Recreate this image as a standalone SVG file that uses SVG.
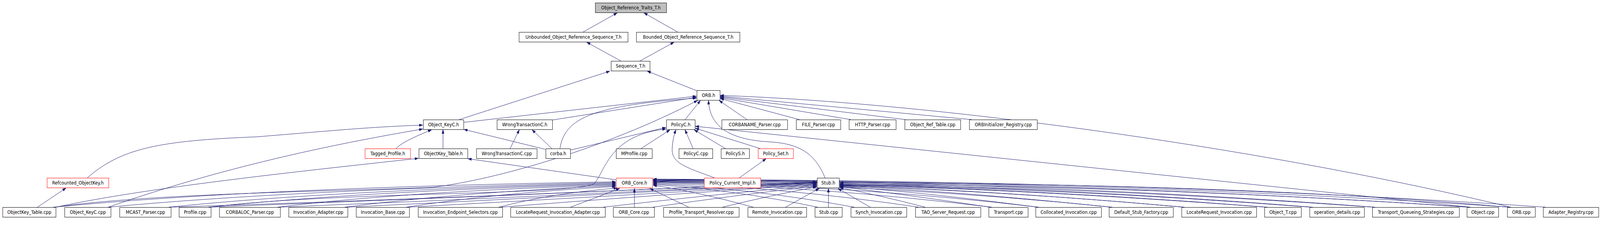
<svg xmlns="http://www.w3.org/2000/svg" width="4363" height="596" viewBox="0 0 4363 596" preserveAspectRatio="none" style="max-width:100vw;max-height:100vh">
<defs>
<marker id="arr" viewBox="0 0 10 7" refX="10" refY="3.5" markerWidth="10" markerHeight="7" markerUnits="userSpaceOnUse" orient="auto"><path d="M0,0 L10,3.5 L0,7 z" fill="#191970" stroke="#191970" stroke-width="0.5"/></marker>
</defs>
<style>
.n rect{fill:#ffffff;stroke:#000000;stroke-width:1}
.n.red rect{stroke:#ff0000}
.n.root rect{fill:#bfbfbf}
.n text{font-family:"DejaVu Sans Condensed","Liberation Sans",sans-serif;font-stretch:condensed;font-size:13px;fill:#000000;text-anchor:middle}
#edges path{fill:none;stroke:#191970;stroke-width:1;marker-end:url(#arr)}
</style>
<rect x="0" y="0" width="4363" height="596" fill="#ffffff"/>
<g id="edges">
<path d="M1590,82 L1683,33"/>
<path d="M1848,82 L1756,33"/>
<path d="M1693,156 L1600,108"/>
<path d="M1745,156 L1838,108"/>
<path d="M1252,306 L1663,182"/>
<path d="M1900,232 L1765,182"/>
<path d="M1264,313 L1899,246"/>
<path d="M1506,307 L1899,249"/>
<path d="M1527,380 C1540,300 1620,270 1899,251"/>
<path d="M1868,306 L1910,257"/>
<path d="M2250,455 C2225,400 2190,368 2100,363 C2000,358 1935,330 1932,257"/>
<path d="M2037,306 L1961,257"/>
<path d="M2180,306 L1964,252"/>
<path d="M2320,306 L1964,250"/>
<path d="M2470,306 L1964,248"/>
<path d="M2650,306 L1964,246"/>
<path d="M4120,530 C3500,390 2600,265 1964,244"/>
<path d="M150,530 C400,495 900,490 1180,479 C1350,460 1650,380 1902,257"/>
<path d="M1555,384 L1816,326"/>
<path d="M575,530 C900,490 1560,500 1620,470 C1650,440 1660,345 1816,330"/>
<path d="M1748,380 L1827,332"/>
<path d="M1948,455 C1880,430 1830,420 1833,380 C1834,360 1838,345 1843,332"/>
<path d="M1890,380 L1868,332"/>
<path d="M1978,380 L1893,332"/>
<path d="M2073,380 L1896,328"/>
<path d="M4010,530 L1896,323"/>
<path d="M2016,455 L2089,406"/>
<path d="M1208,380 L1208,332"/>
<path d="M1487,382 L1265,331"/>
<path d="M1505,380 L1451,332"/>
<path d="M1391,380 L1416,332"/>
<path d="M1080,380 C1095,365 1130,350 1177,332"/>
<path d="M238,455 C330,380 430,360 700,350 C900,335 1000,325 1153,320"/>
<path d="M295,530 C600,430 900,370 1153,330"/>
<path d="M152,530 C400,480 800,440 1141,405"/>
<path d="M102,530 L180,481"/>
<path d="M1680,460 L1276,406"/>
<path d="M145,530 Q700,480 1679,465"/>
<path d="M295,530 Q800,485 1679,467"/>
<path d="M460,530 Q900,487 1679,469"/>
<path d="M568,530 Q1000,488 1679,471"/>
<path d="M757,530 Q1100,490 1679,473"/>
<path d="M940,530 Q1250,492 1679,475"/>
<path d="M1108,530 Q1350,494 1679,477"/>
<path d="M1360,530 Q1500,495 1683,481"/>
<path d="M1556,530 L1690,482"/>
<path d="M1730,530 L1730,482"/>
<path d="M1878,530 L1772,482"/>
<path d="M2054,530 Q1900,490 1781,474"/>
<path d="M2230,530 Q2000,485 1781,472"/>
<path d="M2330,530 Q2050,482 1781,470"/>
<path d="M2505,530 Q2150,480 1781,468"/>
<path d="M2705,530 Q2250,478 1781,466"/>
<path d="M2833,530 Q2350,476 1781,465"/>
<path d="M3033,530 Q2450,474 1781,464"/>
<path d="M3230,530 Q2550,472 1781,463"/>
<path d="M3456,530 Q2650,470 1781,462"/>
<path d="M3580,530 Q2750,468 1781,461"/>
<path d="M3750,530 Q2850,466 1781,460"/>
<path d="M4008,530 Q3000,466 1781,460"/>
<path d="M4118,530 Q3100,465 1781,459"/>
<path d="M4215,530 Q3200,464 1781,458"/>
<path d="M462,530 Q1300,505 2227,465"/>
<path d="M570,530 Q1400,500 2227,466"/>
<path d="M760,530 Q1500,502 2227,467"/>
<path d="M945,530 Q1600,500 2227,468"/>
<path d="M1112,530 Q1700,500 2227,470"/>
<path d="M1365,530 Q1800,498 2227,472"/>
<path d="M1645,530 Q1950,497 2227,474"/>
<path d="M1780,530 Q2000,500 2227,476"/>
<path d="M1970,530 Q2100,500 2227,478"/>
<path d="M2142,530 L2234,482"/>
<path d="M2259,530 L2259,482"/>
<path d="M2373,530 L2285,482"/>
<path d="M2523,530 Q2400,500 2290,480"/>
<path d="M2700,530 Q2450,495 2290,478"/>
<path d="M2830,530 Q2500,490 2290,477"/>
<path d="M3030,530 Q2600,488 2290,476"/>
<path d="M3228,530 Q2700,486 2290,475"/>
<path d="M3452,530 Q2800,484 2290,474"/>
<path d="M3575,530 Q2900,482 2290,473"/>
<path d="M3746,530 Q3000,480 2290,472"/>
<path d="M4004,530 Q3200,478 2290,470"/>
<path d="M4114,530 Q3400,470 2290,467"/>
</g>
<g id="node_Object_Reference_Traits_T_h" class="n root"><rect x="1623.5" y="7.5" width="194" height="25"/><text x="1720.5" y="24.5">Object_Reference_Traits_T.h</text></g>
<g id="node_Unbounded_Object_Reference_Sequence_T_h" class="n"><rect x="1415.5" y="82.5" width="297" height="25"/><text x="1564" y="99.5">Unbounded_Object_Reference_Sequence_T.h</text></g>
<g id="node_Bounded_Object_Reference_Sequence_T_h" class="n"><rect x="1735.5" y="82.5" width="282" height="25"/><text x="1876.5" y="99.5">Bounded_Object_Reference_Sequence_T.h</text></g>
<g id="node_Sequence_T_h" class="n"><rect x="1666.5" y="156.5" width="106" height="25"/><text x="1719.5" y="173.5">Sequence_T.h</text></g>
<g id="node_ORB_h" class="n"><rect x="1900.5" y="231.5" width="63" height="25"/><text x="1932" y="248.5">ORB.h</text></g>
<g id="node_Object_KeyC_h" class="n"><rect x="1154.5" y="306.5" width="110" height="25"/><text x="1209.5" y="323.5">Object_KeyC.h</text></g>
<g id="node_WrongTransactionC_h" class="n"><rect x="1355.5" y="306.5" width="151" height="25"/><text x="1431" y="323.5">WrongTransactionC.h</text></g>
<g id="node_PolicyC_h" class="n"><rect x="1817.5" y="306.5" width="78" height="25"/><text x="1856.5" y="323.5">PolicyC.h</text></g>
<g id="node_CORBANAME_Parser_cpp" class="n"><rect x="1968.5" y="306.5" width="179" height="25"/><text x="2058" y="323.5">CORBANAME_Parser.cpp</text></g>
<g id="node_FILE_Parser_cpp" class="n"><rect x="2171.5" y="306.5" width="121" height="25"/><text x="2232" y="323.5">FILE_Parser.cpp</text></g>
<g id="node_HTTP_Parser_cpp" class="n"><rect x="2315.5" y="306.5" width="128" height="25"/><text x="2379.5" y="323.5">HTTP_Parser.cpp</text></g>
<g id="node_Object_Ref_Table_cpp" class="n"><rect x="2467.5" y="306.5" width="152" height="25"/><text x="2543.5" y="323.5">Object_Ref_Table.cpp</text></g>
<g id="node_ORBInitializer_Registry_cpp" class="n"><rect x="2643.5" y="306.5" width="185" height="25"/><text x="2736" y="323.5">ORBInitializer_Registry.cpp</text></g>
<g id="node_Tagged_Profile_h" class="n red"><rect x="995.5" y="380.5" width="124" height="25"/><text x="1057.5" y="397.5">Tagged_Profile.h</text></g>
<g id="node_ObjectKey_Table_h" class="n"><rect x="1142.5" y="380.5" width="133" height="25"/><text x="1209" y="397.5">ObjectKey_Table.h</text></g>
<g id="node_WrongTransactionC_cpp" class="n"><rect x="1299.5" y="380.5" width="165" height="25"/><text x="1382" y="397.5">WrongTransactionC.cpp</text></g>
<g id="node_corba_h" class="n"><rect x="1488.5" y="380.5" width="67" height="25"/><text x="1522" y="397.5">corba.h</text></g>
<g id="node_MProfile_cpp" class="n"><rect x="1680.5" y="380.5" width="98" height="25"/><text x="1729.5" y="397.5">MProfile.cpp</text></g>
<g id="node_PolicyC_cpp" class="n"><rect x="1851.5" y="380.5" width="92" height="25"/><text x="1897.5" y="397.5">PolicyC.cpp</text></g>
<g id="node_PolicyS_h" class="n"><rect x="1966.5" y="380.5" width="77" height="25"/><text x="2005" y="397.5">PolicyS.h</text></g>
<g id="node_Policy_Set_h" class="n red"><rect x="2067.5" y="380.5" width="96" height="25"/><text x="2115.5" y="397.5">Policy_Set.h</text></g>
<g id="node_Refcounted_ObjectKey_h" class="n red"><rect x="128.5" y="455.5" width="168" height="25"/><text x="212.5" y="472.5">Refcounted_ObjectKey.h</text></g>
<g id="node_ORB_Core_h" class="n red"><rect x="1680.5" y="455.5" width="99" height="25"/><text x="1730" y="472.5">ORB_Core.h</text></g>
<g id="node_Policy_Current_Impl_h" class="n red"><rect x="1920.5" y="455.5" width="154" height="25"/><text x="1997.5" y="472.5">Policy_Current_Impl.h</text></g>
<g id="node_Stub_h" class="n"><rect x="2228.5" y="455.5" width="60" height="25"/><text x="2258.5" y="472.5">Stub.h</text></g>
<g id="node_ObjectKey_Table_cpp" class="n"><rect x="7.5" y="530.5" width="145" height="25"/><text x="80" y="547.5">ObjectKey_Table.cpp</text></g>
<g id="node_Object_KeyC_cpp" class="n"><rect x="176.5" y="530.5" width="126" height="25"/><text x="239.5" y="547.5">Object_KeyC.cpp</text></g>
<g id="node_MCAST_Parser_cpp" class="n"><rect x="326.5" y="530.5" width="140" height="25"/><text x="396.5" y="547.5">MCAST_Parser.cpp</text></g>
<g id="node_Profile_cpp" class="n"><rect x="488.5" y="530.5" width="87" height="25"/><text x="532" y="547.5">Profile.cpp</text></g>
<g id="node_CORBALOC_Parser_cpp" class="n"><rect x="598.5" y="530.5" width="166" height="25"/><text x="681.5" y="547.5">CORBALOC_Parser.cpp</text></g>
<g id="node_Invocation_Adapter_cpp" class="n"><rect x="787.5" y="530.5" width="161" height="25"/><text x="868" y="547.5">Invocation_Adapter.cpp</text></g>
<g id="node_Invocation_Base_cpp" class="n"><rect x="971.5" y="530.5" width="145" height="25"/><text x="1044" y="547.5">Invocation_Base.cpp</text></g>
<g id="node_Invocation_Endpoint_Selectors_cpp" class="n"><rect x="1140.5" y="530.5" width="230" height="25"/><text x="1255.5" y="547.5">Invocation_Endpoint_Selectors.cpp</text></g>
<g id="node_LocateRequest_Invocation_Adapter_cpp" class="n"><rect x="1392.5" y="530.5" width="258" height="25"/><text x="1521.5" y="547.5">LocateRequest_Invocation_Adapter.cpp</text></g>
<g id="node_ORB_Core_cpp" class="n"><rect x="1672.5" y="530.5" width="112" height="25"/><text x="1728.5" y="547.5">ORB_Core.cpp</text></g>
<g id="node_Profile_Transport_Resolver_cpp" class="n"><rect x="1809.5" y="530.5" width="206" height="25"/><text x="1912.5" y="547.5">Profile_Transport_Resolver.cpp</text></g>
<g id="node_Remote_Invocation_cpp" class="n"><rect x="2039.5" y="530.5" width="160" height="25"/><text x="2119.5" y="547.5">Remote_Invocation.cpp</text></g>
<g id="node_Stub_cpp" class="n"><rect x="2222.5" y="530.5" width="74" height="25"/><text x="2259.5" y="547.5">Stub.cpp</text></g>
<g id="node_Synch_Invocation_cpp" class="n"><rect x="2320.5" y="530.5" width="152" height="25"/><text x="2396.5" y="547.5">Synch_Invocation.cpp</text></g>
<g id="node_TAO_Server_Request_cpp" class="n"><rect x="2496.5" y="530.5" width="178" height="25"/><text x="2585.5" y="547.5">TAO_Server_Request.cpp</text></g>
<g id="node_Transport_cpp" class="n"><rect x="2696.5" y="530.5" width="107" height="25"/><text x="2750" y="547.5">Transport.cpp</text></g>
<g id="node_Collocated_Invocation_cpp" class="n"><rect x="2824.5" y="530.5" width="179" height="25"/><text x="2914" y="547.5">Collocated_Invocation.cpp</text></g>
<g id="node_Default_Stub_Factory_cpp" class="n"><rect x="3024.5" y="530.5" width="175" height="25"/><text x="3112" y="547.5">Default_Stub_Factory.cpp</text></g>
<g id="node_LocateRequest_Invocation_cpp" class="n"><rect x="3222.5" y="530.5" width="204" height="25"/><text x="3324.5" y="547.5">LocateRequest_Invocation.cpp</text></g>
<g id="node_Object_T_cpp" class="n"><rect x="3448.5" y="530.5" width="100" height="25"/><text x="3498.5" y="547.5">Object_T.cpp</text></g>
<g id="node_operation_details_cpp" class="n"><rect x="3571.5" y="530.5" width="149" height="25"/><text x="3646" y="547.5">operation_details.cpp</text></g>
<g id="node_Transport_Queueing_Strategies_cpp" class="n"><rect x="3742.5" y="530.5" width="237" height="25"/><text x="3861" y="547.5">Transport_Queueing_Strategies.cpp</text></g>
<g id="node_Object_cpp" class="n"><rect x="4000.5" y="530.5" width="86" height="25"/><text x="4043.5" y="547.5">Object.cpp</text></g>
<g id="node_ORB_cpp" class="n"><rect x="4110.5" y="530.5" width="76" height="25"/><text x="4148.5" y="547.5">ORB.cpp</text></g>
<g id="node_Adapter_Registry_cpp" class="n"><rect x="4208.5" y="530.5" width="151" height="25"/><text x="4284" y="547.5">Adapter_Registry.cpp</text></g>
</svg>
